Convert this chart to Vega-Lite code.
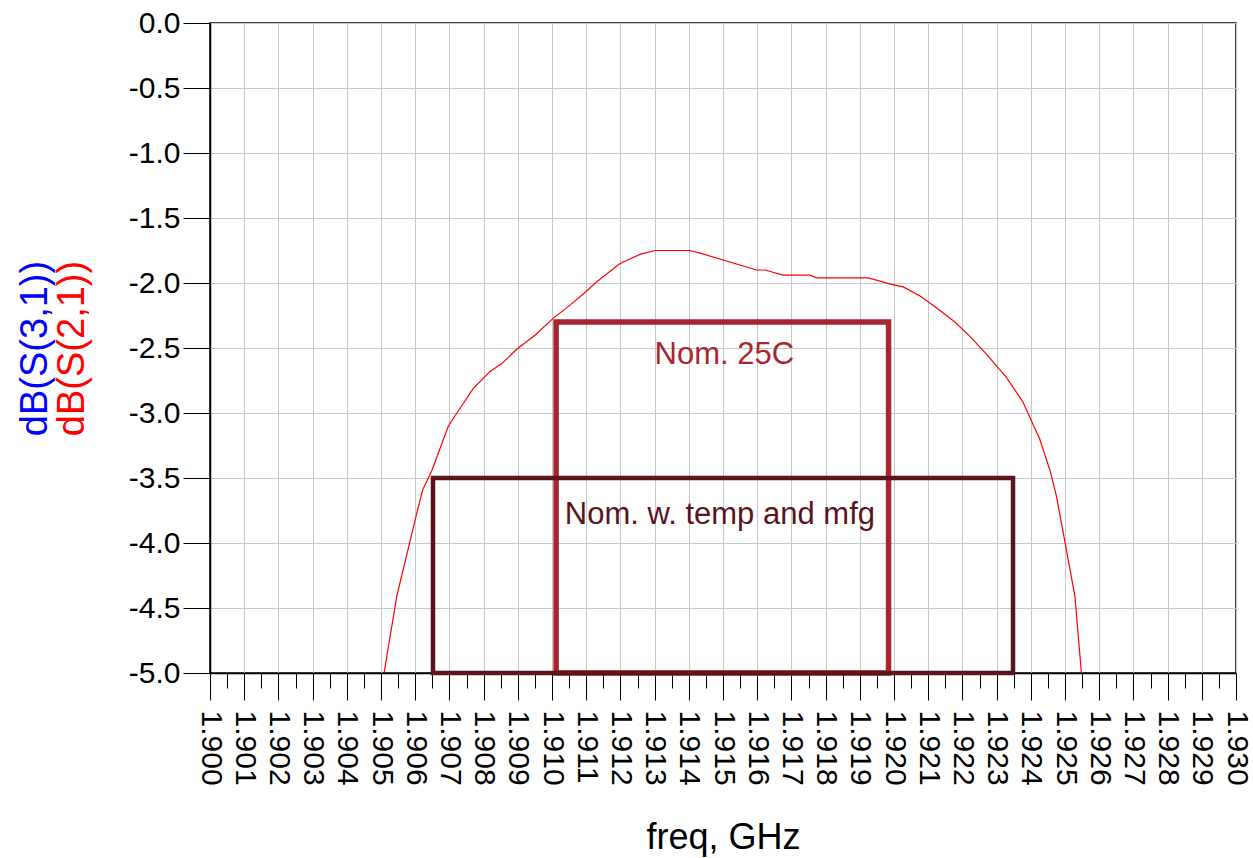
{
  "$schema": "https://vega.github.io/schema/vega-lite/v6.json",
  "width": 1026,
  "height": 650,
  "autosize": {"type": "none"},
  "padding": {"left": 210, "top": 23, "right": 17, "bottom": 185},
  "background": "white",
  "config": {
    "font": "Liberation Sans",
    "view": {"stroke": "#000000", "strokeWidth": 1.5},
    "axis": {"labelFont": "Liberation Sans", "titleFont": "Liberation Sans", "labelColor": "#000000", "titleFontWeight": "normal"},
    "axisX": {"labelOverlap": false, "labelBound": false, "labelFlush": false}
  },
  "datasets": {
    "s21": [
      {"f": 1.90509, "db": -5.00}, {"f": 1.90546, "db": -4.41}, {"f": 1.90600, "db": -3.82},
      {"f": 1.90622, "db": -3.59}, {"f": 1.90649, "db": -3.44}, {"f": 1.90697, "db": -3.10},
      {"f": 1.90722, "db": -3.00}, {"f": 1.90770, "db": -2.81}, {"f": 1.90819, "db": -2.68},
      {"f": 1.90853, "db": -2.62}, {"f": 1.90897, "db": -2.51}, {"f": 1.90951, "db": -2.40},
      {"f": 1.91004, "db": -2.27}, {"f": 1.91053, "db": -2.17}, {"f": 1.91102, "db": -2.06},
      {"f": 1.91131, "db": -1.99}, {"f": 1.91199, "db": -1.85}, {"f": 1.91257, "db": -1.78},
      {"f": 1.91301, "db": -1.75}, {"f": 1.91403, "db": -1.75}, {"f": 1.91433, "db": -1.77},
      {"f": 1.91598, "db": -1.90}, {"f": 1.91623, "db": -1.90}, {"f": 1.91676, "db": -1.94},
      {"f": 1.91754, "db": -1.94}, {"f": 1.91774, "db": -1.96}, {"f": 1.91925, "db": -1.96},
      {"f": 1.91993, "db": -2.01}, {"f": 1.92027, "db": -2.03}, {"f": 1.92076, "db": -2.10},
      {"f": 1.92124, "db": -2.19}, {"f": 1.92178, "db": -2.30}, {"f": 1.92222, "db": -2.41},
      {"f": 1.92275, "db": -2.56}, {"f": 1.92300, "db": -2.64}, {"f": 1.92327, "db": -2.72},
      {"f": 1.92376, "db": -2.91}, {"f": 1.92426, "db": -3.20}, {"f": 1.92456, "db": -3.44},
      {"f": 1.92475, "db": -3.64}, {"f": 1.92499, "db": -3.98}, {"f": 1.92529, "db": -4.41},
      {"f": 1.92548, "db": -5.00}
    ],
    "specs": [
      {"spec": "Nom. 25C", "f": 1.91012, "f_hi": 1.91984, "db_top": -2.3, "db_bot": -5.0},
      {"spec": "Nom. w. temp and mfg", "f": 1.90652, "f_hi": 1.92348, "db_top": -3.5, "db_bot": -5.0}
    ],
    "labels": [
      {"spec": "Nom. 25C", "f": 1.91504, "db": -2.621},
      {"spec": "Nom. w. temp and mfg", "f": 1.91491, "db": -3.853}
    ]
  },
  "layer": [
    {
      "data": {"name": "s21"},
      "mark": {"type": "line", "color": "#FF0000", "strokeWidth": 1.2, "clip": true},
      "encoding": {
        "x": {
          "field": "f", "type": "quantitative",
          "scale": {"domain": [1.9, 1.93], "nice": false, "zero": false},
          "axis": {
            "values": [1.9, 1.901, 1.902, 1.903, 1.904, 1.905, 1.906, 1.907, 1.908, 1.909, 1.91, 1.911, 1.912, 1.913, 1.914, 1.915, 1.916, 1.917, 1.918, 1.919, 1.92, 1.921, 1.922, 1.923, 1.924, 1.925, 1.926, 1.927, 1.928, 1.929, 1.93],
            "format": ".3f",
            "labelAngle": 90, "labelAlign": "left", "labelBaseline": "middle",
            "labelFontSize": 30, "labelPadding": 10, "labelOverlap": false, "labelBound": false, "labelFlush": false,
            "tickSize": 27, "tickColor": "#000000", "tickWidth": 1,
            "grid": true, "gridColor": "#C8C8C8", "gridWidth": 1,
            "domainColor": "#000000", "domainWidth": 1.5,
            "title": "freq, GHz", "titleFontSize": 36, "titleColor": "#000000",
            "titleY": 175, "titleBaseline": "alphabetic"
          }
        },
        "y": {
          "field": "db", "type": "quantitative",
          "scale": {"domain": [-5, 0], "nice": false, "zero": false},
          "axis": {
            "orient": "left",
            "values": [-5, -4.5, -4, -3.5, -3, -2.5, -2, -1.5, -1, -0.5, 0],
            "labelExpr": "replace(format(datum.value,'.1f'),'\u2212','-')",
            "labelFontSize": 30, "labelPadding": 3, "labelAlign": "right", "labelBaseline": "middle",
            "tickSize": 27, "tickColor": "#000000", "tickWidth": 1,
            "grid": true, "gridColor": "#C8C8C8", "gridWidth": 1,
            "domainColor": "#000000", "domainWidth": 1.5,
            "title": "dB(S(2,1))", "titleColor": "#FF0000", "titleFontSize": 38,
            "titleAngle": 270, "titleBaseline": "alphabetic", "titleX": -127
          }
        }
      }
    },
    {
      "data": {"name": "specs"},
      "mark": {"type": "rect", "filled": false},
      "encoding": {
        "x": {"field": "f", "type": "quantitative",
          "axis": {
            "orient": "bottom",
            "values": [1.9005, 1.9015, 1.9025, 1.9035, 1.9045, 1.9055, 1.9065, 1.9075, 1.9085, 1.9095, 1.9105, 1.9115, 1.9125, 1.9135, 1.9145, 1.9155, 1.9165, 1.9175, 1.9185, 1.9195, 1.9205, 1.9215, 1.9225, 1.9235, 1.9245, 1.9255, 1.9265, 1.9275, 1.9285, 1.9295],
            "labels": false, "domain": false, "grid": false, "title": null,
            "tickSize": 15, "tickColor": "#000000", "tickWidth": 1
          }
        },
        "x2": {"field": "f_hi"},
        "y": {"field": "db_top", "type": "quantitative", "axis": null},
        "y2": {"field": "db_bot"},
        "stroke": {"field": "spec", "type": "nominal", "legend": null,
          "scale": {"domain": ["Nom. 25C", "Nom. w. temp and mfg"], "range": ["#A8262F", "#5A141B"]}},
        "strokeWidth": {"field": "spec", "type": "nominal", "legend": null,
          "scale": {"domain": ["Nom. 25C", "Nom. w. temp and mfg"], "range": [5.5, 4.5]}}
      }
    },
    {
      "data": {"name": "labels"},
      "mark": {"type": "text", "fontSize": 31, "baseline": "alphabetic", "align": "center", "font": "Liberation Sans"},
      "encoding": {
        "x": {"field": "f", "type": "quantitative", "axis": null},
        "y": {"field": "db", "type": "quantitative",
          "axis": {
            "orient": "left",
            "labels": false, "ticks": false, "domain": false, "grid": false,
            "title": "dB(S(3,1))", "titleColor": "#0000FF", "titleFontSize": 38,
            "titleAngle": 270, "titleBaseline": "alphabetic", "titleX": -164
          }
        },
        "text": {"field": "spec", "type": "nominal"},
        "color": {"field": "spec", "type": "nominal", "legend": null,
          "scale": {"domain": ["Nom. 25C", "Nom. w. temp and mfg"], "range": ["#A8262F", "#5A141B"]}}
      }
    }
  ],
  "resolve": {"axis": {"x": "independent", "y": "independent"}}
}
